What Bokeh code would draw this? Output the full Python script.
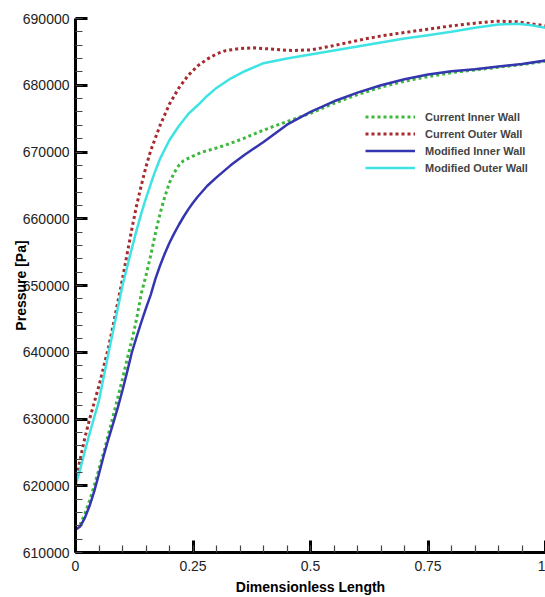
from bokeh.plotting import figure
from bokeh.models import FixedTicker, BasicTickFormatter, Legend, LegendItem, Range1d
from bokeh.embed import file_html
from bokeh.resources import INLINE

# ---- data ----
ci_x = [0.0, 0.01, 0.02, 0.03, 0.04, 0.05, 0.06, 0.07, 0.08, 0.09, 0.10, 0.11, 0.12, 0.13,
        0.14, 0.15, 0.16, 0.17, 0.18, 0.19, 0.20, 0.21, 0.22, 0.23, 0.25, 0.27, 0.30, 0.33,
        0.36, 0.39, 0.42, 0.46, 0.50, 0.55, 0.60, 0.65, 0.70, 0.75, 0.80, 0.85, 0.90, 0.95, 1.0]
ci_y = [613500, 614200, 615800, 617800, 620000, 622500, 625000, 627700, 630400, 633200,
        636000, 639000, 641800, 645000, 648800, 651500, 654500, 657800, 660800, 663300,
        665400, 666900, 668000, 668700, 669400, 670000, 670600, 671300, 672100, 673000,
        673800, 674800, 675800, 677300, 678600, 679700, 680600, 681300, 681900, 682300,
        682700, 683100, 683600]

co_x = [0.0, 0.01, 0.02, 0.03, 0.04, 0.05, 0.06, 0.07, 0.08, 0.09, 0.10, 0.11, 0.12, 0.13,
        0.14, 0.15, 0.16, 0.18, 0.20, 0.22, 0.24, 0.26, 0.28, 0.30, 0.32, 0.35, 0.38, 0.42,
        0.46, 0.50, 0.54, 0.58, 0.62, 0.66, 0.70, 0.75, 0.80, 0.85, 0.90, 0.94, 0.97, 1.0]
co_y = [620500, 624000, 627200, 630000, 632500, 635000, 637800, 640700, 644000, 647500,
        651000, 654800, 658500, 662000, 665000, 667800, 670200, 674000, 677200, 679600,
        681500, 682900, 683900, 684700, 685200, 685500, 685600, 685400, 685200, 685300,
        685800, 686400, 687000, 687500, 687900, 688400, 688900, 689300, 689600, 689500,
        689200, 688900]

mi_x = [0.0, 0.01, 0.02, 0.03, 0.04, 0.05, 0.06, 0.07, 0.08, 0.09, 0.10, 0.11, 0.12, 0.13,
        0.14, 0.15, 0.16, 0.17, 0.18, 0.19, 0.20, 0.21, 0.22, 0.23, 0.24, 0.25, 0.26, 0.28,
        0.30, 0.33, 0.36, 0.40, 0.45, 0.50, 0.55, 0.60, 0.65, 0.70, 0.75, 0.80, 0.85, 0.90,
        0.95, 1.0]
mi_y = [613400, 613900, 615200, 617000, 619200, 621800, 624500, 627000, 629300, 631700,
        634300, 637100, 640000, 642300, 644500, 646600, 648600, 651000, 653000, 654800,
        656400, 657800, 659100, 660300, 661400, 662400, 663300, 664900, 666200, 668000,
        669600, 671500, 674100, 676000, 677600, 678900, 680000, 680900, 681600, 682100,
        682400, 682800, 683200, 683700]

mo_x = [0.0, 0.01, 0.02, 0.03, 0.04, 0.05, 0.06, 0.07, 0.08, 0.09, 0.10, 0.11, 0.12, 0.13,
        0.14, 0.15, 0.16, 0.17, 0.18, 0.20, 0.22, 0.24, 0.26, 0.28, 0.30, 0.33, 0.36, 0.40,
        0.45, 0.50, 0.55, 0.60, 0.65, 0.70, 0.75, 0.80, 0.85, 0.90, 0.94, 0.97, 1.0]
mo_y = [620000, 622500, 625200, 627800, 630300, 632800, 636300, 639800, 643200, 646600,
        650000, 652800, 655600, 658300, 660800, 663100, 665200, 667200, 669000, 671800,
        673900, 675700, 677000, 678400, 679600, 681000, 682100, 683300, 684000, 684600,
        685200, 685800, 686400, 687000, 687500, 688000, 688600, 689100, 689200, 689000,
        688600]

series_names = ["Current Inner Wall", "Current Outer Wall", "Modified Inner Wall", "Modified Outer Wall"]
x_ticks = [0, 0.25, 0.5, 0.75, 1]
x_tick_labels = ["0", "0.25", "0.5", "0.75", "1"]
y_ticks = [610000, 620000, 630000, 640000, 650000, 660000, 670000, 680000, 690000]

TICK_FONT = "'Liberation Sans Narrow', 'Liberation Sans', Arial, sans-serif"
BOLD_FONT = "'Liberation Sans', Arial, sans-serif"

p = figure(width=545, height=597, output_backend="svg", toolbar_location=None,
           x_range=Range1d(0, 1.0), y_range=Range1d(610000, 690000),
           min_border_left=75, min_border_right=0, min_border_top=18, min_border_bottom=44)
p.outline_line_color = None
p.grid.visible = False
p.background_fill_color = "white"
p.border_fill_color = "white"

r1 = p.line(ci_x, ci_y, line_color="#3db83d", line_width=3, line_dash="3 3")
r2 = p.line(co_x, co_y, line_color="#a62a2e", line_width=3, line_dash="3 3")
r3 = p.line(mi_x, mi_y, line_color="#3535b0", line_width=2.5)
r4 = p.line(mo_x, mo_y, line_color="#3fe3e3", line_width=2.5)

minor_x = [round(i * 0.05, 2) for i in range(21)]
minor_y = list(range(610000, 690001, 2000))
p.xaxis.ticker = FixedTicker(ticks=x_ticks, minor_ticks=minor_x)
p.xaxis.major_label_overrides = {t: l for t, l in zip(x_ticks, x_tick_labels)}
p.yaxis.ticker = FixedTicker(ticks=y_ticks, minor_ticks=minor_y)
p.yaxis.formatter = BasicTickFormatter(use_scientific=False)

for ax in (p.xaxis[0], p.yaxis[0]):
    ax.axis_line_width = 3
    ax.axis_line_color = "black"
    ax.major_tick_in = 12
    ax.major_tick_out = 0
    ax.minor_tick_in = 7
    ax.minor_tick_out = 0
    ax.major_tick_line_width = 3
    ax.minor_tick_line_width = 1.2
    ax.minor_tick_line_color = "#444444"
    ax.major_label_text_font = TICK_FONT
    ax.major_label_text_font_size = "14px"
    ax.major_label_text_color = "#222222"
    ax.axis_label_text_font = BOLD_FONT
    ax.axis_label_text_font_style = "bold"
    ax.axis_label_text_font_size = "14px"
    ax.axis_label_text_color = "black"

p.xaxis.axis_label = "Dimensionless Length"
p.xaxis.major_label_standoff = 8
p.xaxis.axis_label_standoff = 5
p.yaxis.axis_label = "Pressure [Pa]"
p.yaxis.major_label_standoff = 6
p.yaxis.axis_label_standoff = -9

legend = Legend(items=[LegendItem(label=n, renderers=[r]) for n, r in zip(series_names, [r1, r2, r3, r4])],
                location=(290, 377), padding=0, margin=0, spacing=2,
                glyph_width=50, glyph_height=15, label_height=15, label_standoff=10,
                label_text_font=BOLD_FONT, label_text_font_style="bold",
                label_text_font_size="11px", border_line_color=None,
                background_fill_alpha=0)
p.add_layout(legend)

open("out.html", "w").write(file_html(p, INLINE))
